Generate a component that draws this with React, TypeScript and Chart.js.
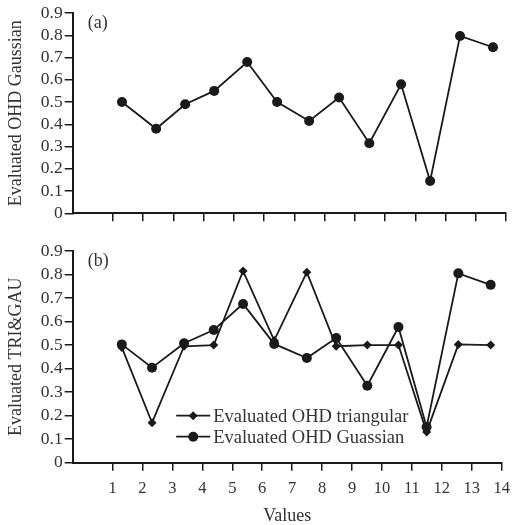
import React, { useEffect, useRef } from 'react';
import { Chart, registerables } from 'chart.js';

Chart.register(...registerables);

// ---- data ----
const xTickValues = [1, 2, 3, 4, 5, 6, 7, 8, 9, 10, 11, 12, 13, 14];
const yTickValues = [0, 0.1, 0.2, 0.3, 0.4, 0.5, 0.6, 0.7, 0.8, 0.9];

const topX = [1.3, 2.43, 3.39, 4.35, 5.44, 6.43, 7.49, 8.48, 9.48, 10.53, 11.49, 12.48, 13.57];
const topGaussian = [0.5, 0.38, 0.49, 0.55, 0.68, 0.5, 0.415, 0.52, 0.315, 0.58, 0.145, 0.797, 0.746];

const bottomX = [1.31, 2.32, 3.39, 4.38, 5.36, 6.4, 7.49, 8.47, 9.51, 10.55, 11.49, 12.55, 13.63];
const bottomTriangular = [0.49, 0.17, 0.495, 0.5, 0.815, 0.52, 0.81, 0.495, 0.5, 0.5, 0.13, 0.503, 0.5];
const bottomGaussian = [0.503, 0.404, 0.508, 0.564, 0.675, 0.505, 0.445, 0.53, 0.327, 0.577, 0.152, 0.805, 0.756];

const topTitle = 'Evaluated OHD Gaussian';
const bottomTitle = 'Evaluated TRI&GAU';
const xTitle = 'Values';
const legendLabels = ['Evaluated OHD triangular', 'Evaluated OHD Guassian'];

// ---- styles ----
const FONT = 'Liberation Serif, Times New Roman, serif';
const INK = '#1a1a1a';
const TEXT = '#333333';

function makeScales(showX: boolean, yTitle: string, xHeight: number) {
  return {
    x: {
      type: 'linear' as const,
      min: -0.33,
      max: 14,
      afterBuildTicks: (s: any) => {
        s.ticks = xTickValues.map((v) => ({ value: v }));
      },
      afterFit: (s: any) => {
        s.height = xHeight;
      },
      grid: {
        display: true,
        drawOnChartArea: false,
        drawTicks: true,
        tickLength: 8,
        color: INK,
        lineWidth: 1.5,
      },
      border: { display: true, color: INK, width: 2 },
      ticks: {
        display: showX,
        autoSkip: false,
        maxRotation: 0,
        padding: 8,
        color: TEXT,
        font: { family: FONT, size: 16.5 },
        callback: (v: any) => String(v),
      },
      title: {
        display: showX,
        text: xTitle,
        color: TEXT,
        font: { family: FONT, size: 18, lineHeight: 1 },
        padding: { top: 0, bottom: 0 },
      },
    },
    y: {
      type: 'linear' as const,
      min: 0,
      max: 0.9,
      afterBuildTicks: (s: any) => {
        s.ticks = yTickValues.map((v) => ({ value: v }));
      },
      afterFit: (s: any) => {
        s.width = 72.7;
      },
      grid: {
        display: true,
        drawOnChartArea: false,
        drawTicks: true,
        tickLength: 8,
        color: INK,
        lineWidth: 1.5,
      },
      border: { display: true, color: INK, width: 2 },
      ticks: {
        autoSkip: false,
        padding: 2,
        color: TEXT,
        font: { family: FONT, size: 17.5, lineHeight: 1 },
        callback: (v: any) => (Number(v) === 0 ? '0' : Number(v).toFixed(1)),
      },
      title: {
        display: true,
        text: yTitle,
        color: TEXT,
        font: { family: FONT, size: 18 },
        padding: { top: 5, bottom: 0 },
      },
    },
  };
}

function panelLabel(text: string) {
  return {
    id: 'panelLabel' + text,
    afterDraw(chart: any) {
      const { ctx, chartArea } = chart;
      ctx.save();
      ctx.font = `18px ${FONT}`;
      ctx.fillStyle = TEXT;
      ctx.textBaseline = 'middle';
      ctx.textAlign = 'left';
      ctx.fillText(text, chartArea.left + 15, chartArea.top + 10);
      ctx.restore();
    },
  };
}

const legendPlugin = {
  id: 'insideLegend',
  afterDraw(chart: any) {
    const { ctx, chartArea } = chart;
    const rows = [chartArea.bottom - 47, chartArea.bottom - 26];
    const x0 = chartArea.left + 103.5;
    const x1 = chartArea.left + 137.5;
    const mx = (x0 + x1) / 2;
    ctx.save();
    rows.forEach((y, i) => {
      ctx.strokeStyle = INK;
      ctx.lineWidth = 1.8;
      ctx.beginPath();
      ctx.moveTo(x0, y);
      ctx.lineTo(x1, y);
      ctx.stroke();
      ctx.fillStyle = INK;
      ctx.beginPath();
      if (i === 0) {
        const r = 4.5;
        ctx.moveTo(mx, y - r);
        ctx.lineTo(mx + r, y);
        ctx.lineTo(mx, y + r);
        ctx.lineTo(mx - r, y);
        ctx.closePath();
      } else {
        ctx.arc(mx, y, 5, 0, Math.PI * 2);
      }
      ctx.fill();
      ctx.font = `18.5px ${FONT}`;
      ctx.fillStyle = TEXT;
      ctx.textBaseline = 'middle';
      ctx.textAlign = 'left';
      ctx.fillText(legendLabels[i], x1 + 3, y + 1);
    });
    ctx.restore();
  },
};

function series(xs: number[], ys: number[]) {
  return ys.map((y, i) => ({ x: xs[i], y }));
}

export default function App() {
  const topRef = useRef<HTMLCanvasElement>(null);
  const botRef = useRef<HTMLCanvasElement>(null);

  useEffect(() => {
    const top = new Chart(topRef.current as HTMLCanvasElement, {
      type: 'line',
      data: {
        datasets: [
          {
            label: 'Evaluated OHD Gaussian',
            data: series(topX, topGaussian),
            borderColor: INK,
            backgroundColor: INK,
            borderWidth: 1.8,
            pointStyle: 'circle',
            pointRadius: 5,
            pointBorderWidth: 0,
            tension: 0,
          },
        ],
      },
      options: {
        responsive: false,
        animation: false,
        layout: { padding: { top: 13, right: 12, left: 0, bottom: 0 } },
        plugins: { legend: { display: false }, tooltip: { enabled: false } },
        scales: makeScales(false, topTitle, 26.7) as any,
      },
      plugins: [panelLabel('(a)')],
    });

    const bot = new Chart(botRef.current as HTMLCanvasElement, {
      type: 'line',
      data: {
        datasets: [
          {
            label: legendLabels[0],
            data: series(bottomX, bottomTriangular),
            borderColor: INK,
            backgroundColor: INK,
            borderWidth: 1.8,
            pointStyle: 'rectRot',
            pointRadius: 4.5,
            pointBorderWidth: 0,
            tension: 0,
          },
          {
            label: legendLabels[1],
            data: series(bottomX, bottomGaussian),
            borderColor: INK,
            backgroundColor: INK,
            borderWidth: 1.8,
            pointStyle: 'circle',
            pointRadius: 5,
            pointBorderWidth: 0,
            tension: 0,
          },
        ],
      },
      options: {
        responsive: false,
        animation: false,
        layout: { padding: { top: 11, right: 12, left: 0, bottom: 0 } },
        plugins: { legend: { display: false }, tooltip: { enabled: false } },
        scales: makeScales(true, bottomTitle, 62.3) as any,
      },
      plugins: [panelLabel('(b)'), legendPlugin],
    });

    return () => {
      top.destroy();
      bot.destroy();
    };
  }, []);

  return (
    <div
      style={{
        position: 'absolute',
        left: 0,
        top: 0,
        width: 518,
        height: 525,
        overflow: 'hidden',
        background: '#fff',
      }}
    >
      <canvas ref={topRef} width={518} height={240} style={{ display: 'block', width: 518, height: 240 }} />
      <canvas ref={botRef} width={518} height={285} style={{ display: 'block', width: 518, height: 285 }} />
    </div>
  );
}
